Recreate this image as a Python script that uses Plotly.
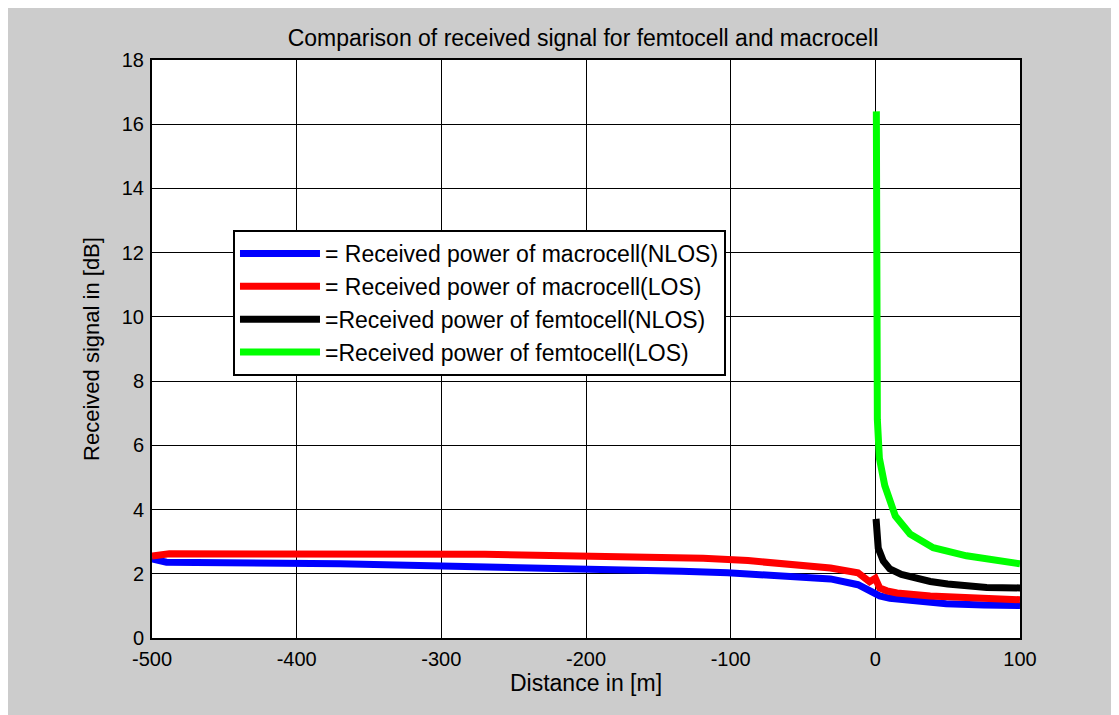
import plotly.graph_objects as go

# Data
macro_nlos_x = [-500, -490, -370, -290, -223, -174, -134, -102, -79, -57, -31, -12, -4, 0, 3, 10, 26, 49, 75, 100]
macro_nlos_y = [2.46, 2.36, 2.31, 2.25, 2.20, 2.14, 2.08, 2.03, 1.98, 1.92, 1.84, 1.66, 1.45, 1.38, 1.31, 1.24, 1.15, 1.07, 1.03, 1.01]

macro_los_x = [-500, -488, -270, -164, -119, -88, -66, -31, -12, -4, 0, 3, 8, 15, 38, 72, 100]
macro_los_y = [2.55, 2.62, 2.61, 2.55, 2.48, 2.41, 2.34, 2.18, 2.03, 1.75, 1.86, 1.56, 1.47, 1.40, 1.31, 1.24, 1.19]

femto_nlos_x = [0.5, 1, 2, 5.5, 10, 18, 26, 38, 50, 65, 77, 100]
femto_nlos_y = [3.71, 3.4, 2.8, 2.4, 2.15, 1.98, 1.87, 1.76, 1.68, 1.62, 1.57, 1.56]

femto_los_x = [0.7, 0.8, 1.0, 1.4, 2.8, 6.5, 13.8, 24, 40, 63, 100]
femto_los_y = [16.4, 12, 9, 6.8, 5.6, 4.75, 3.8, 3.24, 2.81, 2.56, 2.31]

series_names = [
    "= Received power of macrocell(NLOS)",
    "= Received power of macrocell(LOS)",
    "=Received power of femtocell(NLOS)",
    "=Received power of femtocell(LOS)",
]
series_colors = ["#0000ff", "#ff0000", "#000000", "#00ff00"]

x_ticks = [-500, -400, -300, -200, -100, 0, 100]
x_ticktext = ["-500", "-400", "-300", "-200", "-100", "0", "100"]
y_ticks = [0, 2, 4, 6, 8, 10, 12, 14, 16, 18]
y_ticktext = ["0", "2", "4", "6", "8", "10", "12", "14", "16", "18"]

FONT = "Liberation Sans, Arial, sans-serif"

fig = go.Figure()
for xs, ys, name, col in zip(
    [macro_nlos_x, macro_los_x, femto_nlos_x, femto_los_x],
    [macro_nlos_y, macro_los_y, femto_nlos_y, femto_los_y],
    series_names, series_colors,
):
    fig.add_trace(go.Scatter(x=xs, y=ys, mode="lines", name=name,
                             line=dict(color=col, width=7)))

axis_common = dict(
    showgrid=True, gridcolor="#000000", gridwidth=1,
    showline=True, linecolor="#000000", linewidth=2, mirror=True,
    zeroline=False, ticks="", tickfont=dict(family=FONT, size=20, color="#000000"),
)

fig.update_layout(
    width=1111, height=707,
    paper_bgcolor="#cccccc", plot_bgcolor="#ffffff",
    margin=dict(l=144, r=99, t=52, b=77),
    title=dict(text="Comparison of received signal for femtocell and macrocell",
               x=(583 - 8) / 1111, xanchor="center", y=1 - 30 / 707, yanchor="middle",
               font=dict(family=FONT, size=23, color="#000000")),
    xaxis=dict(range=[-500, 100], tickvals=x_ticks, ticktext=x_ticktext,
               title=dict(text="Distance in [m]", font=dict(family=FONT, size=23, color="#000000"), standoff=6),
               ticklabelstandoff=2,
               **axis_common),
    yaxis=dict(range=[0, 18], tickvals=y_ticks, ticktext=y_ticktext,
               title=dict(text="Received signal in [dB]", font=dict(family=FONT, size=22, color="#000000"), standoff=16),
               ticklabelstandoff=2,
               **axis_common),
    legend=dict(x=0.0933, y=0.706, xanchor="left", yanchor="top",
                bgcolor="#ffffff", bordercolor="#000000", borderwidth=2,
                font=dict(family=FONT, size=23, color="#000000"),
                itemwidth=80, tracegroupgap=0),
    showlegend=True,
)

fig.write_html("out.html")
